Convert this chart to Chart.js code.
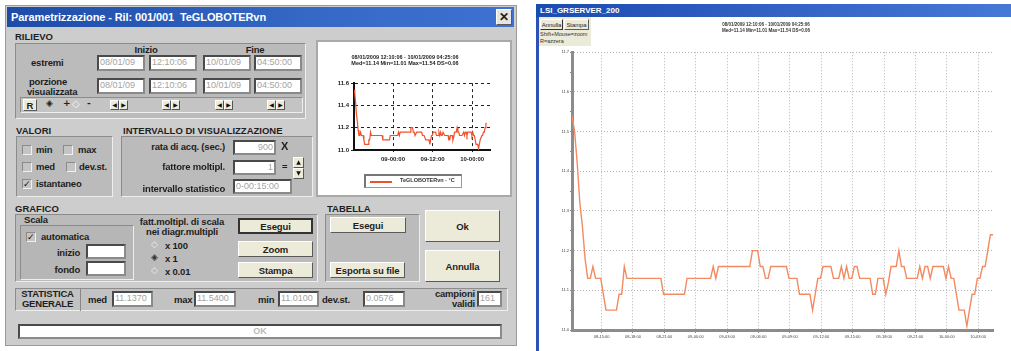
<!DOCTYPE html>
<html><head><meta charset="utf-8">
<script src="https://cdn.jsdelivr.net/npm/chart.js@4.4.0/dist/chart.umd.min.js"></script>
<style>
html,body{margin:0;padding:0;background:#fff;width:1011px;height:351px;overflow:hidden;position:relative;}
.a{position:absolute;box-sizing:border-box;}
.t{position:absolute;font:bold 9.5px "Liberation Sans",Arial,sans-serif;color:#1e1e1e;white-space:nowrap;line-height:11px;letter-spacing:-0.2px;}
.r{text-align:right;}
.c{text-align:center;}
.pn{position:absolute;box-sizing:border-box;background:#bbbbbb;border:1px solid;border-color:#8c8c8c #eeeeee #eeeeee #8c8c8c;}
.bx{position:absolute;box-sizing:border-box;background:#fff;border:2px solid #4a4a4a;border-right-color:#8a8a8a;border-bottom-color:#8a8a8a;font:9px "Liberation Sans",Arial,sans-serif;color:#a3a3a3;padding:0 1px;line-height:11px;white-space:nowrap;overflow:hidden;}
.bt{position:absolute;box-sizing:border-box;background:#ecebd9;border:1px solid;border-color:#ffffff #5a5a5a #5a5a5a #ffffff;font:bold 9.5px "Liberation Sans",Arial,sans-serif;color:#1e1e1e;display:flex;align-items:center;justify-content:center;white-space:nowrap;letter-spacing:-0.1px;}
.hd{position:absolute;font:bold 9.5px "Liberation Sans",Arial,sans-serif;color:#1e1e1e;letter-spacing:0px;white-space:nowrap;}
.cb{position:absolute;box-sizing:border-box;width:10px;height:10px;background:#c4c4c4;border:1px solid;border-color:#8a8a8a #f0f0f0 #f0f0f0 #8a8a8a;font:bold 9px "DejaVu Sans",sans-serif;line-height:8px;color:#111;}
.ar{position:absolute;box-sizing:border-box;width:9px;height:10px;background:#ecebd9;border:1px solid;border-color:#fff #555 #555 #fff;font:6px "DejaVu Sans",sans-serif;line-height:8px;text-align:center;color:#111;}
.sm{position:absolute;white-space:nowrap;font-family:"Liberation Sans",Arial,sans-serif;}
</style></head><body>

<!-- ===== Left dialog ===== -->
<div class="a" style="left:5px;top:5px;width:512px;height:341px;background:#cdcdcd;border:1px solid #9a9a9a;"></div>
<div class="a" style="left:7px;top:7px;width:507px;height:20px;background:linear-gradient(to right,#1d4ba8,#3668c6 60%,#3d72d2);"></div>
<div class="t" style="left:11px;top:11px;color:#fff;font-size:11px;line-height:12px;letter-spacing:-0.1px;">Parametrizzazione - Ril: 001/001&nbsp;&nbsp;TeGLOBOTERvn</div>
<div class="bt" style="left:496px;top:9px;width:16px;height:16px;background:#e4e4e4;font-size:12px;">✕</div>

<!-- RILIEVO -->
<div class="hd" style="left:15px;top:31px;">RILIEVO</div>
<div class="pn" style="left:15px;top:43px;width:291px;height:76px;"></div>
<div class="t c" style="left:116px;top:44px;width:60px;">Inizio</div>
<div class="t c" style="left:225px;top:44px;width:60px;">Fine</div>
<div class="t" style="left:31px;top:57px;">estremi</div>
<div class="bx" style="left:97px;top:55px;width:48px;height:16px;">08/01/09</div>
<div class="bx" style="left:149px;top:55px;width:48px;height:16px;">12:10:06</div>
<div class="bx" style="left:203px;top:55px;width:48px;height:16px;">10/01/09</div>
<div class="bx" style="left:254px;top:55px;width:48px;height:16px;">04:50:00</div>
<div class="t" style="left:29px;top:76px;">porzione</div>
<div class="t" style="left:27px;top:86px;">visualizzata</div>
<div class="bx" style="left:97px;top:78px;width:48px;height:16px;">08/01/09</div>
<div class="bx" style="left:149px;top:78px;width:48px;height:16px;">12:10:06</div>
<div class="bx" style="left:203px;top:78px;width:48px;height:16px;">10/01/09</div>
<div class="bx" style="left:254px;top:78px;width:48px;height:16px;">04:50:00</div>
<div class="a" style="left:20px;top:97px;width:283px;height:16px;background:#c4c4c4;border:1px solid;border-color:#8c8c8c #eee #eee #8c8c8c;"></div>
<div class="bt" style="left:23px;top:99px;width:14px;height:12px;">R</div>
<div class="sm" style="left:46px;top:98px;font:9px 'DejaVu Sans',sans-serif;color:#222;">◈</div>
<div class="sm" style="left:63px;top:98px;font:bold 9px 'DejaVu Sans',sans-serif;color:#222;">+</div>
<div class="sm" style="left:72px;top:98px;font:10px 'DejaVu Sans',sans-serif;color:#f4f4f4;">◇</div>
<div class="sm" style="left:87px;top:98px;font:bold 9px 'DejaVu Sans',sans-serif;color:#222;">-</div>
<div class="ar" style="left:110px;top:100px;">◀</div><div class="ar" style="left:119px;top:100px;">▶</div>
<div class="ar" style="left:162px;top:100px;">◀</div><div class="ar" style="left:171px;top:100px;">▶</div>
<div class="ar" style="left:215px;top:100px;">◀</div><div class="ar" style="left:224px;top:100px;">▶</div>
<div class="ar" style="left:267px;top:100px;">◀</div><div class="ar" style="left:276px;top:100px;">▶</div>

<!-- mini chart panel -->
<div class="a" style="left:316px;top:40px;width:196px;height:157px;background:#fff;border:2px solid #a9a9a9;"></div>
<canvas id="mini" class="a" width="188" height="150" style="left:320px;top:44px;width:188px;height:150px;"></canvas>
<div class="a" style="left:364px;top:174px;width:98px;height:14px;border:1px solid #9a9a9a;border-left:2px solid #777;border-top:2px solid #777;"></div>
<div class="a" style="left:370px;top:181px;width:22px;height:2px;background:#f0502e;"></div>
<div class="sm" style="left:400px;top:177px;font-size:5.5px;font-weight:bold;color:#333;">TeGLOBOTERvn - °C</div>

<!-- VALORI -->
<div class="hd" style="left:16px;top:125px;">VALORI</div>
<div class="pn" style="left:16px;top:136px;width:97px;height:61px;"></div>
<div class="cb" style="left:22px;top:145px;"></div><div class="t" style="left:36px;top:144px;">min</div>
<div class="cb" style="left:63px;top:145px;"></div><div class="t" style="left:78px;top:144px;">max</div>
<div class="cb" style="left:22px;top:162px;"></div><div class="t" style="left:36px;top:161px;">med</div>
<div class="cb" style="left:66px;top:162px;"></div><div class="t" style="left:79px;top:161px;">dev.st.</div>
<div class="cb" style="left:22px;top:179px;">✓</div><div class="t" style="left:36px;top:178px;">istantaneo</div>

<!-- INTERVALLO -->
<div class="hd" style="left:123px;top:125px;">INTERVALLO DI VISUALIZZAZIONE</div>
<div class="pn" style="left:121px;top:136px;width:192px;height:61px;"></div>
<div class="t r" style="left:120px;top:141px;width:105px;">rata di acq. (sec.)</div>
<div class="bx r" style="left:233px;top:140px;width:43px;height:15px;">900</div>
<div class="t" style="left:281px;top:141px;font-size:11px;">X</div>
<div class="t r" style="left:120px;top:161px;width:105px;">fattore moltipl.</div>
<div class="bx r" style="left:233px;top:160px;width:43px;height:15px;">1</div>
<div class="t" style="left:282px;top:161px;">=</div>
<div class="ar" style="left:293px;top:157px;width:11px;height:11px;">▲</div>
<div class="ar" style="left:293px;top:168px;width:11px;height:11px;">▼</div>
<div class="t r" style="left:115px;top:183px;width:110px;">intervallo statistico</div>
<div class="bx" style="left:233px;top:179px;width:59px;height:15px;">0-00:15:00</div>

<!-- GRAFICO -->
<div class="hd" style="left:15px;top:203px;">GRAFICO</div>
<div class="pn" style="left:15px;top:214px;width:303px;height:68px;"></div>
<div class="t" style="left:24px;top:214px;">Scala</div>
<div class="pn" style="left:20px;top:225px;width:114px;height:55px;background:#b6b6b6;"></div>
<div class="cb" style="left:26px;top:232px;">✓</div><div class="t" style="left:41px;top:231px;">automatica</div>
<div class="t r" style="left:30px;top:247px;width:50px;">inizio</div>
<div class="bx" style="left:86px;top:244px;width:40px;height:15px;"></div>
<div class="t r" style="left:30px;top:264px;width:50px;">fondo</div>
<div class="bx" style="left:86px;top:261px;width:40px;height:15px;"></div>
<div class="t c" style="left:136px;top:216px;width:92px;">fatt.moltipl. di scala</div>
<div class="t c" style="left:136px;top:226px;width:92px;">nei diagr.multipli</div>
<div class="sm" style="left:151px;top:239px;font:9px 'DejaVu Sans',sans-serif;color:#eee;">◇</div><div class="t" style="left:165px;top:240px;">x 100</div>
<div class="sm" style="left:151px;top:252px;font:9px 'DejaVu Sans',sans-serif;color:#333;">◈</div><div class="t" style="left:165px;top:253px;">x 1</div>
<div class="sm" style="left:151px;top:265px;font:9px 'DejaVu Sans',sans-serif;color:#eee;">◇</div><div class="t" style="left:165px;top:266px;">x 0.01</div>
<div class="bt" style="left:238px;top:218px;width:75px;height:16px;border:2px solid #333;">Esegui</div>
<div class="bt" style="left:238px;top:241px;width:75px;height:16px;">Zoom</div>
<div class="bt" style="left:238px;top:262px;width:75px;height:16px;">Stampa</div>

<!-- TABELLA -->
<div class="hd" style="left:327px;top:203px;">TABELLA</div>
<div class="pn" style="left:325px;top:214px;width:95px;height:68px;"></div>
<div class="bt" style="left:330px;top:217px;width:76px;height:16px;">Esegui</div>
<div class="bt" style="left:330px;top:262px;width:75px;height:16px;">Esporta su file</div>

<div class="bt" style="left:425px;top:210px;width:75px;height:32px;">Ok</div>
<div class="bt" style="left:425px;top:250px;width:75px;height:32px;">Annulla</div>

<!-- STATISTICA -->
<div class="pn" style="left:15px;top:288px;width:493px;height:23px;background:#c2c2c2;"></div>
<div class="a" style="left:80px;top:288px;width:1px;height:23px;background:#888;"></div>
<div class="t c" style="left:15px;top:289px;width:65px;line-height:10px;">STATISTICA<br>GENERALE</div>
<div class="t" style="left:88px;top:294px;">med</div>
<div class="bx" style="left:112px;top:291px;width:41px;height:16px;" id="s0"></div>
<div class="t" style="left:174px;top:294px;">max</div>
<div class="bx" style="left:194px;top:291px;width:42px;height:16px;" id="s1"></div>
<div class="t" style="left:258px;top:294px;">min</div>
<div class="bx" style="left:278px;top:291px;width:41px;height:16px;" id="s2"></div>
<div class="t" style="left:322px;top:294px;">dev.st.</div>
<div class="bx" style="left:363px;top:291px;width:42px;height:16px;" id="s3"></div>
<div class="t r" style="left:410px;top:289px;width:65px;line-height:10px;">campioni<br>validi</div>
<div class="bx" style="left:477px;top:291px;width:25px;height:16px;" id="s4"></div>

<div class="bx c" style="left:18px;top:324px;width:484px;height:15px;color:#bbb;font-weight:bold;">OK</div>

<!-- ===== Right window ===== -->
<div class="a" style="left:536px;top:4px;width:475px;height:13px;background:linear-gradient(to right,#1c4bb0,#3a6bcc 70%,#4678d6);"></div>
<div class="sm" style="left:540px;top:6px;font-size:8px;font-weight:bold;color:#fff;">LSI_GRSERVER_200</div>
<div class="a" style="left:536px;top:17px;width:3px;height:334px;background:#2b50b6;"></div>
<div class="a" style="left:539px;top:17px;width:52px;height:29px;background:#ecead8;"></div>
<div class="bt" style="left:540px;top:19px;width:23px;height:11px;font-size:6px;font-weight:normal;border-color:#fff #333 #333 #fff;">Annulla</div>
<div class="bt" style="left:564px;top:19px;width:25px;height:11px;font-size:6px;font-weight:normal;">Stampa</div>
<div class="sm" style="left:540px;top:31px;font-size:5.5px;color:#333;">Shift+Mouse=zoom</div>
<div class="sm" style="left:540px;top:38px;font-size:5.5px;color:#333;">R=azzera</div>
<canvas id="big" class="a" width="472" height="334" style="left:539px;top:17px;width:472px;height:334px;"></canvas>

<script>
// ---- data ----
const sampleStartHours = 12 + 10/60 + 6/3600;   // 08/01/2009 12:10:06, hours from 08/01 00:00
const sampleStepHours = 0.25;                   // rata di acq. 900 s
const temperature = [
 11.54,11.50,11.42,11.32,11.26,11.18,11.13,11.13,11.16,11.13,
 11.13,11.13,11.09,11.05,11.05,11.05,11.05,11.05,11.09,11.09,
 11.16,11.13,11.13,11.13,11.13,11.13,11.13,11.13,11.13,11.13,
 11.13,11.13,11.13,11.13,11.13,11.09,11.09,11.09,11.09,11.09,
 11.09,11.09,11.09,11.09,11.13,11.13,11.13,11.13,11.13,11.13,
 11.13,11.13,11.13,11.13,11.16,11.13,11.16,11.16,11.16,11.16,
 11.16,11.16,11.16,11.16,11.16,11.16,11.16,11.16,11.16,11.20,
 11.20,11.20,11.16,11.16,11.13,11.13,11.16,11.16,11.16,11.16,
 11.16,11.16,11.16,11.13,11.13,11.13,11.13,11.09,11.09,11.09,
 11.09,11.09,11.05,11.09,11.13,11.13,11.16,11.16,11.16,11.16,
 11.13,11.13,11.13,11.16,11.13,11.16,11.13,11.13,11.16,11.16,
 11.13,11.13,11.13,11.13,11.13,11.09,11.09,11.13,11.13,11.13,
 11.09,11.12,11.16,11.16,11.16,11.20,11.16,11.16,11.13,11.13,
 11.13,11.13,11.13,11.16,11.13,11.16,11.16,11.13,11.16,11.16,
 11.16,11.16,11.16,11.13,11.16,11.13,11.13,11.09,11.05,11.05,
 11.05,11.01,11.05,11.09,11.09,11.13,11.13,11.16,11.16,11.20,
 11.24,11.24
];
const titleLines = ["08/01/2009 12:10:06 - 10/01/2009 04:25:06", "Med=11.14 Min=11.01 Max=11.54 DS=0.06"];
const seriesLabel = "TeGLOBOTERvn - °C";
const statValues = ["11.1370", "11.5400", "11.0100", "0.0576", "161"];

const xTickHours = [15,18,21,24,27,30,33,36,39,42,45,48,51];
const xTickLabels = ["08-15:00","08-18:00","08-21:00","09-00:00","09-03:00","09-06:00","09-09:00","09-12:00","09-15:00","09-18:00","09-21:00","10-00:00","10-03:00"];
const yTickValues = [11.0,11.1,11.2,11.3,11.4,11.5,11.6,11.7];
const yTickLabels = ["11.0","11.1","11.2","11.3","11.4","11.5","11.6","11.7"];
const miniXTickHours = [24,36,48];
const miniXTickLabels = ["09-00:00","09-12:00","10-00:00"];
const miniYTickValues = [11.0,11.2,11.4,11.6];
const miniYTickLabels = ["11.0","11.2","11.4","11.6"];

statValues.forEach((v,i)=>{document.getElementById('s'+i).textContent=v;});

const points = temperature.map((v,i)=>({x: sampleStartHours + i*sampleStepHours, y: v}));
const endHours = sampleStartHours + (temperature.length-1)*sampleStepHours;
const FF = '"Liberation Sans", Arial, sans-serif';

// big chart: majors + minor half steps on y
const yAll = [];
yTickValues.forEach((v,i)=>{ yAll.push({value:v, label:yTickLabels[i], major:true}); if(i<yTickValues.length-1) yAll.push({value:(v+yTickValues[i+1])/2, label:'', major:false}); });

new Chart(document.getElementById('big'), {
  type:'line',
  data:{datasets:[{label:seriesLabel, data:points, borderColor:'#f28a62', borderWidth:1.4, pointRadius:0, tension:0, fill:false}]},
  options:{
    responsive:false, animation:false, events:[],
    layout:{padding:{left:0,right:18,top:0,bottom:0}},
    plugins:{legend:{display:false}, tooltip:{enabled:false},
      title:{display:true, text:titleLines, color:'#333', font:{family:FF,size:4.5,weight:'bold',lineHeight:1.25}, padding:{top:5,bottom:19}}},
    scales:{
      x:{type:'linear', min:sampleStartHours, max:endHours,
         afterBuildTicks:s=>{s.ticks = xTickHours.map(v=>({value:v}));},
         afterFit:s=>{s.height=21;},
         ticks:{autoSkip:false, maxRotation:0, padding:1, color:'#444', font:{family:FF,size:4}, callback:(v,i)=>xTickLabels[i]},
         grid:{color:'#b5b5b5', tickColor:'#888', tickLength:3, lineWidth:1},
         border:{color:'#8c8c8c', width:3, dash:[1,2]}},
      y:{min:11.0, max:11.7,
         afterBuildTicks:s=>{s.ticks = yAll.map(t=>({value:t.value}));},
         afterFit:s=>{s.width=33;},
         ticks:{autoSkip:false, padding:1, color:'#444', font:{family:FF,size:4}, callback:(v,i)=>yAll[i].label},
         grid:{color:c=>(c.index%2===0?'#b5b5b5':'rgba(0,0,0,0)'), tickColor:'#888', tickLength:2, lineWidth:1},
         border:{color:'#8c8c8c', width:3, dash:[1,2]}}
    }
  }
});

new Chart(document.getElementById('mini'), {
  type:'line',
  data:{datasets:[{label:seriesLabel, data:points, borderColor:'#f0502e', borderWidth:1.2, pointRadius:0, tension:0, fill:false}]},
  options:{
    responsive:false, animation:false, events:[],
    layout:{padding:{left:0,right:18,top:0,bottom:30}},
    plugins:{legend:{display:false}, tooltip:{enabled:false},
      title:{display:true, text:titleLines, color:'#222', font:{family:FF,size:5.5,weight:'bold',lineHeight:1.1}, padding:{top:10,bottom:17}}},
    scales:{
      x:{type:'linear', min:sampleStartHours, max:53.4,
         afterBuildTicks:s=>{s.ticks = miniXTickHours.map(v=>({value:v}));},
         afterFit:s=>{s.height=14;},
         ticks:{autoSkip:false, maxRotation:0, padding:4, color:'#222', font:{family:FF,size:6,weight:'bold'}, callback:(v,i)=>miniXTickLabels[i]},
         grid:{color:'#222', tickColor:'#222', tickLength:2, lineWidth:1},
         border:{color:'#111', width:2, dash:[3,3]}},
      y:{min:11.0, max:11.6,
         afterBuildTicks:s=>{s.ticks = miniYTickValues.map(v=>({value:v}));},
         afterFit:s=>{s.width=34;},
         ticks:{autoSkip:false, padding:2, color:'#222', font:{family:FF,size:6,weight:'bold'}, callback:(v,i)=>miniYTickLabels[i]},
         grid:{color:'#222', tickColor:'#222', tickLength:3, lineWidth:1},
         border:{color:'#111', width:2, dash:[3,3]}}
    }
  }
});
</script>
</body></html>
